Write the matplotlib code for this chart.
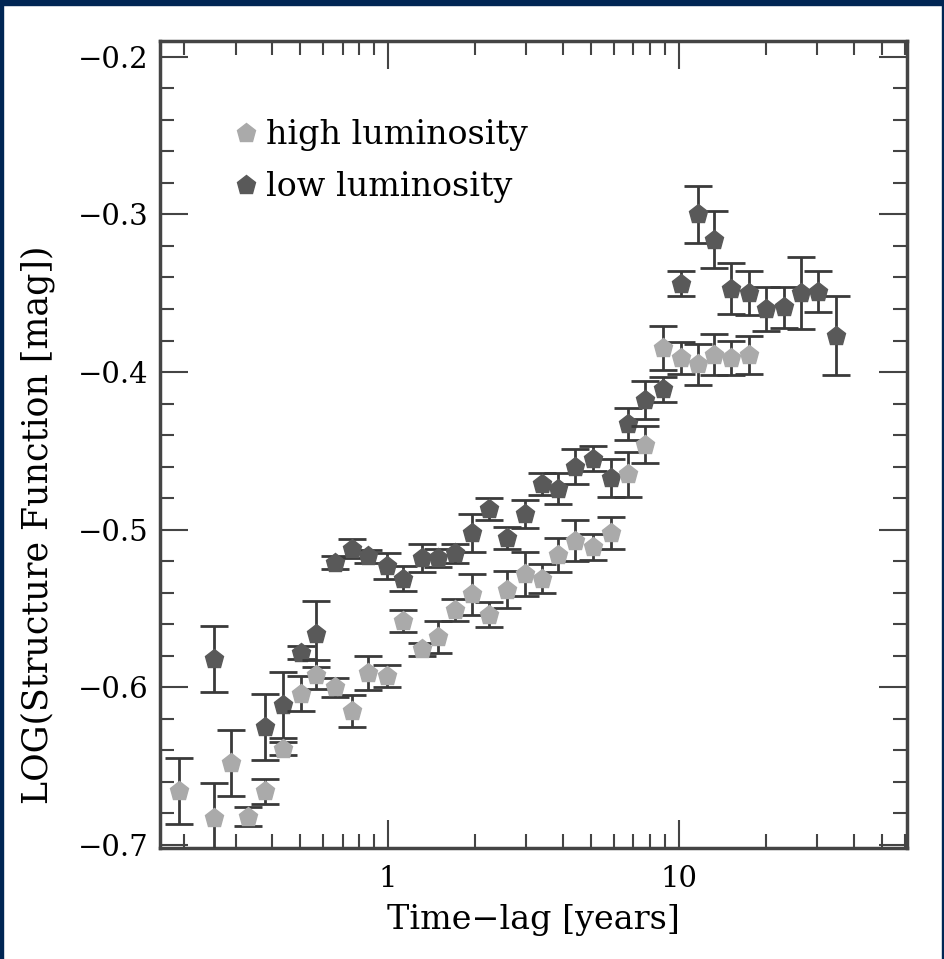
import numpy as np
import matplotlib.pyplot as plt
from matplotlib.lines import Line2D
from matplotlib.patches import Rectangle
from matplotlib.ticker import LogLocator, MultipleLocator, FixedLocator, NullFormatter

plt.rcParams['font.family'] = ['DejaVu Serif', 'DejaVu Sans']

# structure function, high luminosity sample
x_high = [0.192, 0.253, 0.290, 0.332, 0.380, 0.438, 0.505, 0.569, 0.657, 0.757, 0.853,
          0.992, 1.13, 1.31, 1.49, 1.70, 1.95, 2.23, 2.57, 2.97, 3.40, 3.86, 4.41,
          5.09, 5.87, 6.72, 7.64, 8.81, 10.16, 11.63, 13.2, 15.2, 17.4]
y_high = [-0.666, -0.683, -0.648, -0.682, -0.666, -0.639, -0.604, -0.592, -0.600, -0.615,
          -0.591, -0.593, -0.558, -0.576, -0.568, -0.551, -0.541, -0.554, -0.538, -0.528,
          -0.531, -0.516, -0.507, -0.511, -0.502, -0.465, -0.446, -0.385, -0.391, -0.395,
          -0.389, -0.391, -0.389]
e_high = [0.021, 0.022, 0.021, 0.006, 0.008, 0.004, 0.011, 0.009, 0.006, 0.010, 0.011,
          0.007, 0.007, 0.004, 0.010, 0.007, 0.013, 0.008, 0.012, 0.014, 0.009, 0.011,
          0.013, 0.008, 0.010, 0.014, 0.012, 0.014, 0.010, 0.013, 0.013, 0.011, 0.012]

# structure function, low luminosity sample
x_low = [0.253, 0.380, 0.438, 0.505, 0.569, 0.657, 0.757, 0.853, 0.992, 1.13, 1.31,
         1.49, 1.70, 1.95, 2.23, 2.57, 2.97, 3.40, 3.86, 4.41, 5.09, 5.87, 6.72, 7.64,
         8.81, 10.16, 11.63, 13.2, 15.2, 17.4, 20.0, 23.0, 26.3, 30.2, 34.8]
y_low = [-0.582, -0.625, -0.611, -0.578, -0.566, -0.521, -0.512, -0.517, -0.523, -0.531,
         -0.518, -0.518, -0.515, -0.502, -0.487, -0.505, -0.490, -0.471, -0.474, -0.460,
         -0.455, -0.467, -0.433, -0.418, -0.411, -0.344, -0.300, -0.316, -0.347, -0.350,
         -0.360, -0.359, -0.350, -0.349, -0.377]
e_low = [0.021, 0.021, 0.021, 0.004, 0.021, 0.004, 0.006, 0.004, 0.008, 0.008, 0.009,
         0.006, 0.006, 0.012, 0.007, 0.007, 0.009, 0.007, 0.010, 0.011, 0.008, 0.012,
         0.010, 0.012, 0.008, 0.008, 0.018, 0.018, 0.016, 0.014, 0.014, 0.013, 0.023,
         0.013, 0.025]

c_high = '#aaaaaa'
c_low = '#595959'
c_err = '#3a3a3a'
navy = '#002654'

fig = plt.figure(figsize=(9.45, 9.59), dpi=100)
ax = fig.add_axes([0.1693, 0.1157, 0.7905, 0.8415])

ax.errorbar(x_high, y_high, yerr=e_high, fmt='p', ms=14, mfc=c_high, mec=c_high,
            ecolor=c_err, elinewidth=2, capsize=10, capthick=2, zorder=3)
ax.errorbar(x_low, y_low, yerr=e_low, fmt='p', ms=14, mfc=c_low, mec=c_low,
            ecolor=c_err, elinewidth=2, capsize=10, capthick=2, zorder=2)

ax.set_xscale('log')
ax.set_xlim(0.165, 61)
ax.set_ylim(-0.702, -0.19)

ax.xaxis.set_major_locator(FixedLocator([1, 10]))
ax.xaxis.set_major_formatter(plt.FuncFormatter(lambda v, p: '%d' % v))
ax.xaxis.set_minor_locator(LogLocator(base=10, subs=np.arange(2, 10), numticks=20))
ax.xaxis.set_minor_formatter(NullFormatter())
ax.yaxis.set_major_locator(MultipleLocator(0.1))
ax.yaxis.set_minor_locator(MultipleLocator(0.02))
ax.yaxis.set_major_formatter(plt.FuncFormatter(
    lambda v, p: ('\u2212%.1f' % -v) if v < 0 else '%.1f' % v))

ax.tick_params(which='both', direction='in', top=True, right=True, color='#444444')
ax.tick_params(axis='x', labelsize=21, pad=12)
ax.tick_params(axis='y', labelsize=21, pad=8)
ax.tick_params(which='major', length=20, width=1.5)
ax.tick_params(which='minor', length=10, width=1.5)
for s in ax.spines.values():
    s.set_linewidth(2.5)
    s.set_color('#444444')

ax.set_xlabel('Time\u2212lag [years]', fontsize=24, labelpad=8)
ax.set_ylabel('LOG(Structure Function [mag])', fontsize=25)
ax.yaxis.set_label_coords(-0.14, 0.40)

handles = [Line2D([], [], ls='none', marker='p', ms=14, mfc=c_high, mec=c_high),
           Line2D([], [], ls='none', marker='p', ms=14, mfc=c_low, mec=c_low)]
ax.legend(handles, ['high luminosity', 'low luminosity'], loc='upper left',
          bbox_to_anchor=(0.052, 0.94), frameon=False, fontsize=24,
          handletextpad=0.1, handlelength=1.0, labelspacing=0.6)

# navy frame round the white page
fig.patches.append(Rectangle((0, 1 - 5 / 959), 1, 5 / 959, transform=fig.transFigure,
                             color=navy, zorder=0))
fig.patches.append(Rectangle((0, 0), 3 / 945, 1, transform=fig.transFigure,
                             color=navy, zorder=0))
fig.patches.append(Rectangle((1 - 3 / 945, 0), 3 / 945, 1, transform=fig.transFigure,
                             color=navy, zorder=0))

fig.savefig('out.png', dpi=100)
